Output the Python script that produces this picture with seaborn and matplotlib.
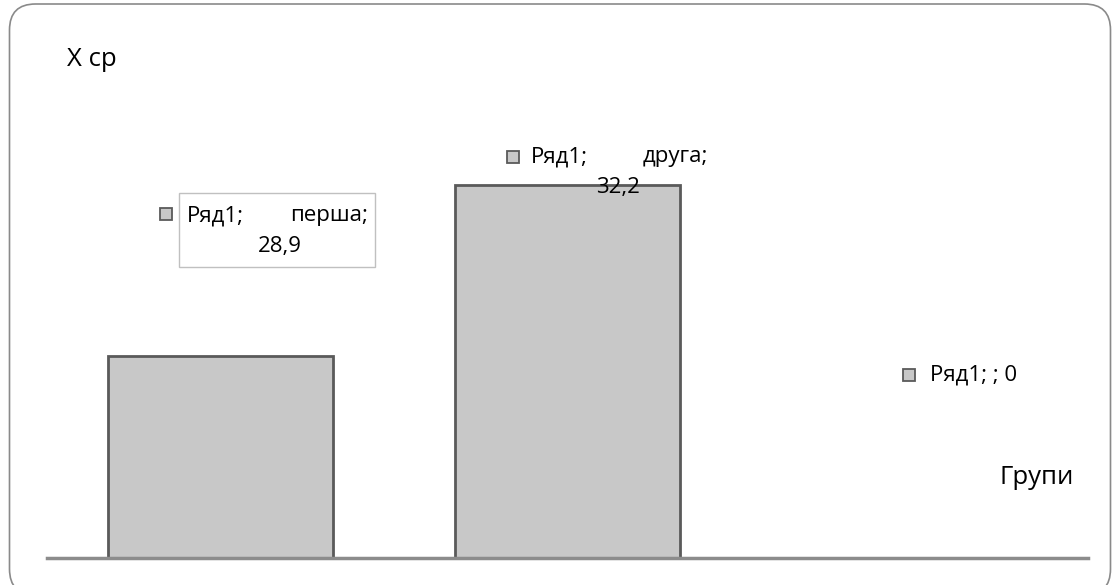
import matplotlib
matplotlib.use("Agg")
import pandas as pd
import seaborn as sns
import matplotlib.pyplot as plt
from matplotlib.patches import Rectangle, FancyBboxPatch

# data
groups = ["перша", "друга", ""]
x_mean = [28.9, 32.2, 0]
series_name = "Ряд1"
y_label = "X ср"
x_label = "Групи"

W, H = 1113, 585
sns.set_theme(style="white")
plt.rcParams["font.family"] = ["Open Sans", "DejaVu Sans"]
plt.rcParams["text.color"] = "black"

df = pd.DataFrame({"group": groups, "value": x_mean})

fig = plt.figure(figsize=(W / 100, H / 100), dpi=100)
ax = fig.add_axes([47 / W, 1 - 558 / H, (1088 - 47) / W, (558 - 40) / H])

sns.barplot(data=df, x="group", y="value", order=groups, color="#c8c8c8",
            saturation=1, width=0.647, edgecolor="#5a5a5a", linewidth=2, ax=ax)
ax.set_xlim(-0.5, 2.5)
ax.set_ylim(25, 35)
for s in ["top", "right", "left"]:
    ax.spines[s].set_visible(False)
ax.spines["bottom"].set_color("#8c8c8c")
ax.spines["bottom"].set_linewidth(2.5)
ax.set_xticks([])
ax.set_yticks([])
ax.set_xlabel("")
ax.set_ylabel("")
ax.set_facecolor("none")


def px(x, y):
    return x / W, 1 - y / H


def marker(x, y):
    # small legend key like in the Excel data labels
    fig.add_artist(Rectangle(px(x - 6, y + 6), 12 / W, 12 / H, transform=fig.transFigure,
                             facecolor="#c8c8c8", edgecolor="#5a5a5a", linewidth=1.3))


fs = 16
# label for first bar (in a box)
fig.add_artist(Rectangle(px(179, 267), (375 - 179) / W, (267 - 193) / H, transform=fig.transFigure,
                         facecolor="white", edgecolor="#c0c0c0", linewidth=1))
marker(166, 214)
fig.text(*px(187, 216), f"{series_name};", fontsize=fs, ha="left", va="center")
fig.text(*px(368, 216), f"{groups[0]};", fontsize=fs, ha="right", va="center")
fig.text(*px(280, 246), f"{x_mean[0]}".replace(".", ","), fontsize=fs, ha="center", va="center")

# label for second bar
marker(513, 157)
fig.text(*px(531, 157), f"{series_name};", fontsize=fs, ha="left", va="center")
fig.text(*px(708, 157), f"{groups[1]};", fontsize=fs, ha="right", va="center")
fig.text(*px(618, 187), f"{x_mean[1]}".replace(".", ","), fontsize=fs, ha="center", va="center")

# label for third (empty) category
marker(909, 375)
fig.text(*px(930, 375), f"{series_name}; {groups[2]}; {x_mean[2]}", fontsize=fs, ha="left", va="center")

# axis titles
fig.text(*px(67, 60), y_label, fontsize=18.5, ha="left", va="center")
fig.text(*px(1000, 478), x_label, fontsize=18.5, ha="left", va="center")

# rounded chart frame
r = 26
fig.add_artist(FancyBboxPatch((9.5 + r, -10 + r), 1101 - 2 * r, 591 - 2 * r,
                              boxstyle=f"round,pad={r}", transform=None,
                              facecolor="none", edgecolor="#8a8a8a", linewidth=1.2))

fig.savefig("out.png", dpi=100)
